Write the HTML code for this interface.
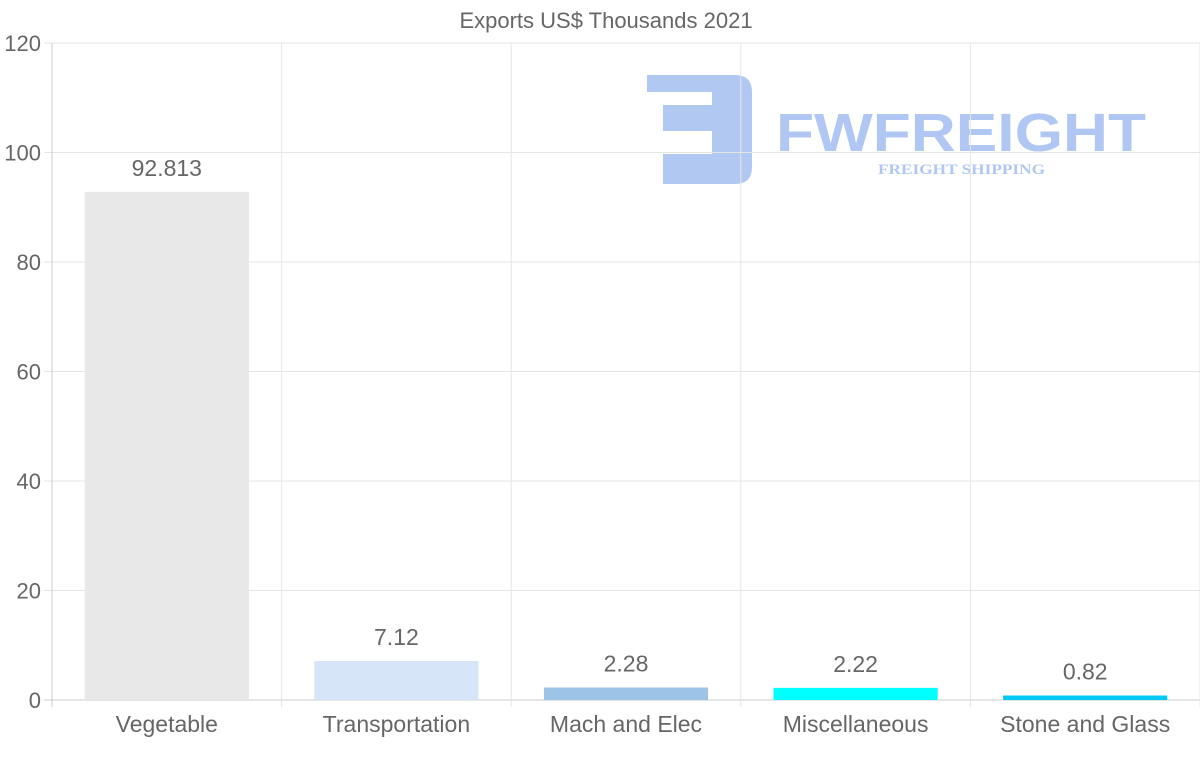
<!DOCTYPE html>
<html><head><meta charset="utf-8"><style>
html,body{margin:0;padding:0;background:#fff;}
svg{display:block;font-family:"Liberation Sans",sans-serif;}
</style></head><body>
<svg id="chart" width="1200" height="763">
<g id="logo" opacity="0.55">
  <path d="M647 75 H735 Q752 75 752 92 V167 Q752 184 735 184 H663 V154 H712 V131 H663 V105 H712 V92 H647 Z" fill="#6f9be8"/>
  <text x="776" y="151" font-size="54" font-weight="bold" fill="#6f9be8" textLength="370" lengthAdjust="spacingAndGlyphs">FWFREIGHT</text>
  <text x="878" y="174" font-size="15" font-weight="bold" fill="#6f9be8" font-family="Liberation Serif,serif" textLength="167" lengthAdjust="spacingAndGlyphs">FREIGHT SHIPPING</text>
</g>
<text x="606" y="28" text-anchor="middle" font-size="22" fill="#666">Exports US$ Thousands 2021</text>
<g id="grid"></g><g id="bars"></g><g id="labels"></g>
</svg>
<script>
const categories=["Vegetable","Transportation","Mach and Elec","Miscellaneous","Stone and Glass"];
const values=[92.813,7.12,2.28,2.22,0.82];
const valueLabels=["92.813","7.12","2.28","2.22","0.82"];
const colors=["#e8e8e8","#d6e6f8","#9dc3e6","#00ffff","#00c8f0"];
const yTicks=[0,20,40,60,80,100,120];
const NS="http://www.w3.org/2000/svg";
const L=52,R=1200,T=43,B=700,yMax=120;
const y=v=>B-(v/yMax)*(B-T);
const bw=(R-L)/categories.length;
const x=i=>L+bw*i;
function mk(tag,attrs,parent){const e=document.createElementNS(NS,tag);for(const k in attrs)e.setAttribute(k,attrs[k]);parent.appendChild(e);return e;}
const grid=document.getElementById('grid'),bars=document.getElementById('bars'),labels=document.getElementById('labels');
yTicks.forEach(t=>{
  const ln=mk('line',{x1:44,x2:R,y1:y(t),y2:y(t),stroke:t===0?'#ccc':'#e5e5e5','stroke-width':1},grid);
  
  
  const tx=mk('text',{x:41,y:y(t)+8,'text-anchor':'end','font-size':22,fill:'#666'},grid);
  tx.textContent=t;
  
  
});
for(let i=0;i<=categories.length;i++){
  const ln=mk('line',{x1:x(i),x2:x(i),y1:T,y2:707,stroke:i===0?'#ccc':'#e5e5e5','stroke-width':1},grid);
  
  
}
categories.forEach((c,i)=>{
  const w=bw*0.715,cx=x(i)+bw/2;
  const r=mk('rect',{x:cx-w/2,y:y(values[i]),width:w,height:B-y(values[i]),fill:colors[i]},bars);
  
  
  const v=mk('text',{x:cx,y:y(values[i])-16,'text-anchor':'middle','font-size':23,fill:'#666'},labels);
  v.textContent=valueLabels[i];
  
  
  const t=mk('text',{x:cx,y:732,'text-anchor':'middle','font-size':23,fill:'#666'},labels);
  t.textContent=c;
  
  
});
</script>
</body></html>
